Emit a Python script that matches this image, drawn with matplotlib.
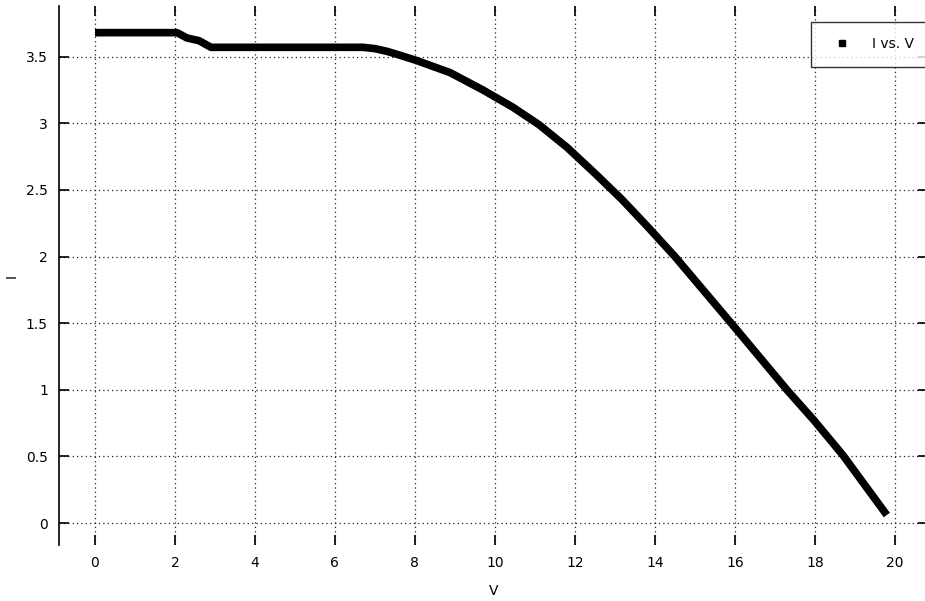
import matplotlib
matplotlib.use("Agg")
import matplotlib.pyplot as plt
from matplotlib.lines import Line2D

# I-V curve
voltage = [0.0, 2.05, 2.3, 2.6, 2.9, 6.7, 7.0, 7.3, 7.63, 8.05, 8.88, 9.7, 10.45,
           11.1, 11.8, 12.48, 13.17, 13.8, 14.5, 16.02, 17.3, 17.98, 18.7, 19.8]
current = [3.68, 3.68, 3.64, 3.62, 3.57, 3.57, 3.56, 3.54, 3.51, 3.47, 3.38, 3.25, 3.12,
           2.99, 2.82, 2.63, 2.43, 2.23, 2.0, 1.46, 1.0, 0.77, 0.51, 0.06]

x_ticks = [0, 2, 4, 6, 8, 10, 12, 14, 16, 18, 20]
y_ticks = [0, 0.5, 1, 1.5, 2, 2.5, 3, 3.5]
y_ticklabels = ["0", "0.5", "1", "1.5", "2", "2.5", "3", "3.5"]

W, H = 925, 601
fig = plt.figure(figsize=(W / 100, H / 100), dpi=100)
# axes run past the right edge, as in the cropped reference
ax = fig.add_axes([59 / W, 1 - 545 / H, (928 - 59) / W, (545 - 6) / H])

ax.plot(voltage, current, color="black", linewidth=5.5, solid_capstyle="butt",
        solid_joinstyle="round")

ax.set_xlim(-0.9, 20.83)
ax.set_ylim(-0.165, 3.88)
ax.set_xticks(x_ticks)
ax.set_yticks(y_ticks)
ax.set_yticklabels(y_ticklabels)
ax.tick_params(direction="in", length=7, width=1.2, labelsize=10, pad=8,
               top=True, right=True)

ax.grid(True, color="#222222", linestyle=(0, (1, 2.5)), linewidth=0.9)
ax.set_axisbelow(True)

for side in ["top", "right", "bottom"]:
    ax.spines[side].set_visible(False)
ax.spines["left"].set_linewidth(1.2)

ax.set_xlabel("V", fontsize=10, labelpad=10)
ax.set_ylabel("I", fontsize=10, labelpad=5)

handle = Line2D([], [], color="black", marker="s", markersize=4, linestyle="none")
leg = ax.legend([handle], ["I vs. V"], loc="upper left",
                bbox_to_anchor=(811 / W, 1 - 22 / H), bbox_transform=fig.transFigure,
                fancybox=False, edgecolor="black", fontsize=10, borderpad=1.1,
                handlelength=2.3, handletextpad=1.0, borderaxespad=0)
leg.get_frame().set_linewidth(1.0)

fig.savefig("out.png", dpi=100, facecolor="white")
